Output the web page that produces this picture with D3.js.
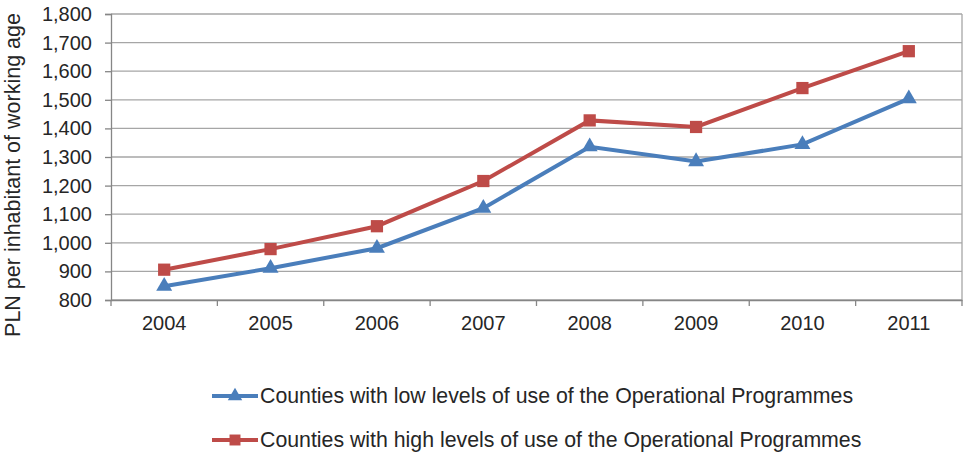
<!DOCTYPE html>
<html><head><meta charset="utf-8">
<script src="https://cdn.jsdelivr.net/npm/d3@7"></script>
<style>body{margin:0;background:#fff}svg{display:block}</style>
</head><body>
<svg id="c" width="963" height="454"></svg>
<script>
const years = ["2004","2005","2006","2007","2008","2009","2010","2011"];
const lowUse = [848, 911, 981, 1121, 1336, 1284, 1344, 1504];
const highUse = [906, 978, 1058, 1216, 1428, 1405, 1541, 1670];
const yTicks = [800,900,1000,1100,1200,1300,1400,1500,1600,1700,1800];
const seriesNames = ["Counties with low levels of use of the Operational Programmes",
                     "Counties with high levels of use of the Operational Programmes"];

const svg = d3.select("#c");
const L = 111, R = 962, T = 14, B = 300;
const x = d3.scaleBand().domain(years).range([L, R]);
const y = d3.scaleLinear().domain([800, 1800]).range([B, T]);
const font = "'Liberation Sans', Arial, sans-serif";
const txt = "#262626";

// gridlines
svg.append("g").selectAll("line").data(yTicks).join("line")
  .attr("x1", L).attr("x2", R).attr("y1", d => y(d)).attr("y2", d => y(d))
  .attr("stroke", "#a6a6a6").attr("stroke-width", 1.3);
// right border
svg.append("line").attr("x1", R).attr("x2", R).attr("y1", T).attr("y2", B)
  .attr("stroke", "#a6a6a6").attr("stroke-width", 1.3);

// y axis
const ya = svg.append("g").attr("transform", `translate(${L},0)`)
  .call(d3.axisLeft(y).tickValues(yTicks).tickFormat(d3.format(",")).tickSizeOuter(0).tickSize(6).tickPadding(13));
ya.select(".domain").attr("stroke", "#868686").attr("stroke-width", 1.3);
ya.selectAll(".tick line").attr("stroke", "#868686").attr("stroke-width", 1.3);
ya.selectAll("text").attr("font-family", font).attr("font-size", 20).attr("fill", txt);

// x axis
const xa = svg.append("g").attr("transform", `translate(0,${B})`)
  .call(d3.axisBottom(x).tickSize(0).tickPadding(16).tickSizeOuter(0));
xa.select(".domain").attr("stroke", "#868686").attr("stroke-width", 1.3);
xa.selectAll("text").attr("font-family", font).attr("font-size", 20).attr("fill", txt);
svg.append("g").selectAll("line").data(years.concat(["end"])).join("line")
  .attr("x1", (d,i) => L + i * x.step()).attr("x2", (d,i) => L + i * x.step())
  .attr("y1", B).attr("y2", B + 6).attr("stroke", "#868686").attr("stroke-width", 1.3);

// y label
svg.append("text").attr("transform", `translate(20,${(T+B)/2 + 18}) rotate(-90)`)
  .attr("text-anchor", "middle").attr("font-family", font).attr("font-size", 21.5).attr("fill", txt)
  .text("PLN per inhabitant of working age");

const cx = d => x(d) + x.bandwidth() / 2;
const line = d3.line().x((d,i) => cx(years[i])).y(d => y(d));
const blue = "#4a7ebb", red = "#be4b48";

svg.append("path").datum(highUse).attr("d", line).attr("fill", "none").attr("stroke", red).attr("stroke-width", 4);
svg.append("path").datum(lowUse).attr("d", line).attr("fill", "none").attr("stroke", blue).attr("stroke-width", 4);

const sq = d3.symbol().type(d3.symbolSquare).size(150);
const tri = d3.symbol().type(d3.symbolTriangle).size(110);
svg.append("g").selectAll("path").data(highUse).join("path")
  .attr("d", sq).attr("transform", (d,i) => `translate(${cx(years[i])},${y(d)})`).attr("fill", red);
svg.append("g").selectAll("path").data(lowUse).join("path")
  .attr("d", tri).attr("transform", (d,i) => `translate(${cx(years[i])},${y(d)})`).attr("fill", blue);

// legend
const leg = [{name: seriesNames[0], c: blue, t: "tri", yy: 396}, {name: seriesNames[1], c: red, t: "sq", yy: 440}];
const lg = svg.append("g").selectAll("g").data(leg).join("g").attr("transform", d => `translate(0,${d.yy})`);
lg.append("line").attr("x1", 212).attr("x2", 258).attr("stroke", d => d.c).attr("stroke-width", 4);
lg.append("path").attr("d", d => d.t === "tri" ? d3.symbol().type(d3.symbolTriangle).size(90)() : d3.symbol().type(d3.symbolSquare).size(120)())
  .attr("transform", "translate(235,0)").attr("fill", d => d.c);
lg.append("text").attr("x", 260).attr("dy", "0.35em").attr("font-family", font).attr("font-size", 21.3).attr("fill", txt)
  .text(d => d.name);
</script>
</body></html>
